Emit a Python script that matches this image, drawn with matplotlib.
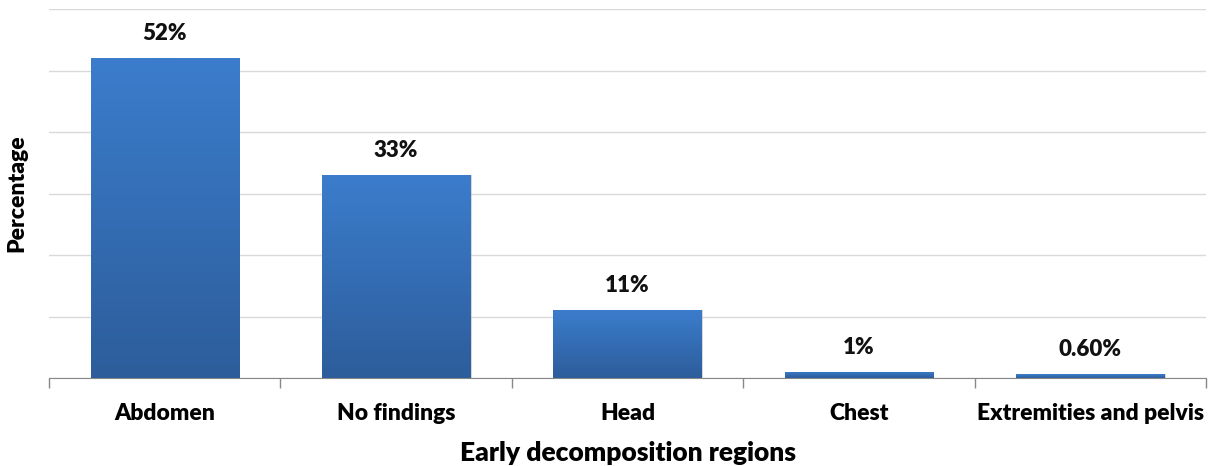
import matplotlib
matplotlib.use("Agg")
import matplotlib.pyplot as plt
import numpy as np
from matplotlib.colors import LinearSegmentedColormap
from matplotlib.patches import Rectangle

categories = ["Abdomen", "No findings", "Head", "Chest", "Extremities and pelvis"]
values = [52, 33, 11, 1, 0.6]
labels = ["52%", "33%", "11%", "1%", "0.60%"]

plt.rcParams['font.family'] = ['Lato', 'DejaVu Sans']
W = 'heavy'

fig = plt.figure(figsize=(12.12, 4.66), dpi=100)
ax = fig.add_axes([49/1212, 1-378/466, (1206-49)/1212, (378-9)/466])

x = np.arange(len(categories))
width = 0.64
bars = ax.bar(x, values, width=width, color='#3A7BCA', zorder=3)

cmap = LinearSegmentedColormap.from_list('g', ['#2D5D9B', '#3B7DCC'])
grad = np.linspace(0, 1, 256).reshape(-1, 1)
for b in bars:
    x0, y0 = b.get_x(), b.get_y()
    w, h = b.get_width(), b.get_height()
    sh = Rectangle((x0 + 0.006, y0), w, h, facecolor='#b0b0b0', alpha=0.5,
                   edgecolor='none', zorder=2)
    ax.add_patch(sh)
    im = ax.imshow(grad, extent=[x0, x0 + w, y0, y0 + h], origin='lower',
                   cmap=cmap, aspect='auto', zorder=3.5)
    im.set_clip_path(b)

for xi, v, lab in zip(x, values, labels):
    ax.text(xi, v + 4.0, lab, ha='center', va='center', fontsize=16,
            fontweight=W, color='#111111')

ax.set_xlim(-0.5, len(categories) - 0.5)
ax.set_ylim(0, 60)
ax.set_yticks(np.arange(0, 61, 10))
ax.set_yticklabels([])
ax.tick_params(axis='y', length=0)
ax.grid(axis='y', color='#d9d9d9', linewidth=1, zorder=0)
ax.set_axisbelow(True)

ax.set_xticks(x)
ax.set_xticklabels(categories, fontsize=16.5, fontweight=W)
ax.set_xticks(np.arange(-0.5, len(categories), 1), minor=True)
ax.tick_params(axis='x', which='major', length=0, pad=18)
ax.tick_params(axis='x', which='minor', length=7, color='#888888', width=1)

for s in ['left', 'right', 'top']:
    ax.spines[s].set_visible(False)
ax.spines['bottom'].set_color('#888888')

ax.set_xlabel("Early decomposition regions", fontsize=19, fontweight=W, labelpad=12)
ax.set_ylabel("Percentage", fontsize=16.5, fontweight=W, labelpad=12)

fig.savefig("out.png", dpi=100)
